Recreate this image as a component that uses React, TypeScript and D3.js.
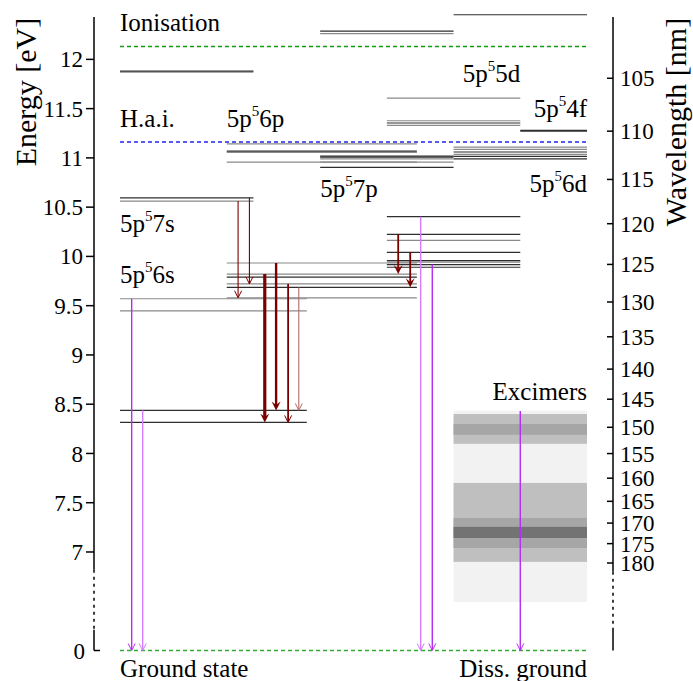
import React from "react";
import * as d3 from "d3";

const W = 693;
const H = 681;

// level energies in eV, grouped by column and by line shade
const s7Dark = [11.88, 10.595];
const s7Light = [11.87, 10.562];
const s6Dark = [8.437, 8.315];
const s6Light = [9.57, 9.447];
const p6Dark = [11.069, 9.789, 9.686];
const p6Light = [11.143, 11.055, 10.958, 9.933, 9.821, 9.721, 9.58];
const p7Dark = [12.287, 11.018, 11.008, 10.904];
const p7Light = [12.262, 10.99, 10.958];
const d5Dark = [11.354, 10.403, 10.224, 10.041, 9.958, 9.917, 9.89];
const d5Light = [11.607, 11.377, 11.33, 10.163, 9.943];
const d6Dark = [12.453, 11.06, 11.016, 10.99];
const d6Light = [11.11, 11.087, 11.036];
const f4Dark = [11.28, 11.272];

const ionisation = 12.13;
const hai = 11.16;

// cascade transitions (dark red)
const cascadeFrom = [10.562, 10.595, 9.821, 9.933, 9.721, 9.686, 10.224, 10.041];
const cascadeTo = [9.58, 9.721, 8.315, 8.437, 8.315, 8.437, 9.821, 9.686];
const cascadeSlot = [1.77, 1.94, 2.17, 2.34, 2.52, 2.68, 4.17, 4.35];
const cascadeStrength = [1, 1, 4, 3, 2, 0.5, 2.5, 2.5];

// VUV lines to the ground state (magenta)
const vuvFrom = [9.57, 8.437, 10.403, 9.917, 8.431];
const vuvSlot = [0.175, 0.34, 4.507, 4.681, 6.0];
const vuvStrong = [1, 0, 0, 1, 1];

// excimer emission bands [nm]
const excimerLo = [147, 147.6, 149.4, 161, 168.8, 170.9];
const excimerHi = [191, 153.1, 151.4, 179.7, 176.1, 173.6];
const excimerGrey = ["#f2f2f2", "#bfbfbf", "#a6a6a6", "#bfbfbf", "#a6a6a6", "#737373"];

const energyTicks = [7, 7.5, 8, 8.5, 9, 9.5, 10, 10.5, 11, 11.5, 12];
const wavelengthTicks = [105, 110, 115, 120, 125, 130, 135, 140, 145, 150, 155, 160, 165, 170, 175, 180];

const HC = 1239.84;
const FONT = "Liberation Serif, Times New Roman, Times, DejaVu Serif, serif";

const Sup = ({ x, y, base, sup, rest, anchor = "start" }) => (
  <text x={x} y={y} fontSize={25} fontFamily={FONT} textAnchor={anchor} fill="#000">
    {base}
    <tspan fontSize={15} dy={-11}>{sup}</tspan>
    <tspan dy={11}>{rest}</tspan>
  </text>
);

export default function App() {
  const y = d3.scaleLinear().domain([6, 12.43]).range([650.5, 17]);
  const ey = (e: number) => y(e < 6 ? 6 : e);
  const x = d3.scaleLinear().domain([0, 7]).range([120, 587]);

  const dark = "#2e2e2e";
  const light = "#8a8a8a";
  const columns = [
    { span: [0, 2], dark: s7Dark, light: s7Light },
    { span: [0, 2.8], dark: s6Dark, light: s6Light },
    { span: [1.6, 4.45], dark: p6Dark, light: p6Light },
    { span: [3, 5], dark: p7Dark, light: p7Light },
    { span: [4, 6], dark: d5Dark, light: d5Light },
    { span: [5, 7], dark: d6Dark, light: d6Light },
    { span: [6, 7], dark: f4Dark, light: [] },
  ];

  const axL = 94;
  const axR = 613;

  const arrow = (key, ax, y1, y2, color, width, filled) => {
    const hl = filled ? 9 : 7;
    const hw = filled ? 4.5 : 3.5;
    return (
      <g key={key}>
        <line x1={ax} x2={ax} y1={y1} y2={filled ? y2 - hl * 0.6 : y2 - 0.5} stroke={color} strokeWidth={width} />
        {filled ? (
          <path d={`M${ax - hw},${y2 - hl}L${ax},${y2}L${ax + hw},${y2 - hl}L${ax},${y2 - hl * 0.6}Z`} fill={color} />
        ) : (
          <path d={`M${ax - hw},${y2 - hl}L${ax},${y2}L${ax + hw},${y2 - hl}`} fill="none" stroke={color} strokeWidth={1} />
        )}
      </g>
    );
  };

  return (
    <svg width={W} height={H} style={{ position: "absolute", left: 0, top: 0, background: "#fff", fontFamily: FONT }}>
      {/* excimer bands */}
      {excimerLo.map((lo, i) => (
        <rect key={`ex${i}`} x={x(5)} width={x(7) - x(5)} y={y(HC / lo)} height={y(HC / excimerHi[i]) - y(HC / lo)} fill={excimerGrey[i]} />
      ))}

      {/* levels */}
      {columns.map((c, ci) => (
        <g key={`col${ci}`}>
          {c.light.map((e, i) => (
            <line key={`l${i}`} x1={x(c.span[0])} x2={x(c.span[1])} y1={y(e)} y2={y(e)} stroke={light} strokeWidth={1.2} />
          ))}
          {c.dark.map((e, i) => (
            <line key={`d${i}`} x1={x(c.span[0])} x2={x(c.span[1])} y1={y(e)} y2={y(e)} stroke={dark} strokeWidth={1.2} />
          ))}
        </g>
      ))}

      {/* reference lines */}
      <line x1={x(0)} x2={x(7)} y1={y(ionisation)} y2={y(ionisation)} stroke="#119911" strokeWidth={1.5} strokeDasharray="4,3" />
      <line x1={x(0)} x2={x(7)} y1={y(hai)} y2={y(hai)} stroke="#2222ee" strokeWidth={1.5} strokeDasharray="4,3" />
      <line x1={x(0)} x2={x(7)} y1={ey(0)} y2={ey(0)} stroke="#33aa33" strokeWidth={1.5} strokeDasharray="4,3" />

      {/* cascade arrows */}
      {cascadeFrom.map((e, i) => {
        const s = cascadeStrength[i];
        const color = s < 1 ? "#b86a6a" : "#7a0000";
        const width = s >= 3 ? s * 0.8 : s >= 2 ? 1.8 : 1.1;
        return arrow(`c${i}`, x(cascadeSlot[i]), y(e), y(cascadeTo[i]), color, width, s >= 2.5);
      })}

      {/* VUV arrows */}
      {vuvFrom.map((e, i) =>
        arrow(`v${i}`, x(vuvSlot[i]), y(e), ey(0), vuvStrong[i] ? "#b62cf0" : "#d27cff", 1.4, false)
      )}

      {/* left axis */}
      <line x1={axL} x2={axL} y1={y(12.43)} y2={ey(6.82)} stroke="#000" strokeWidth={1.5} />
      <line x1={axL} x2={axL} y1={ey(6.82)} y2={ey(6.21)} stroke="#000" strokeWidth={1.5} strokeDasharray="3,4" />
      <line x1={axL} x2={axL} y1={ey(6.21)} y2={ey(0)} stroke="#000" strokeWidth={1.5} />
      {energyTicks.map((t) => (
        <g key={`et${t}`}>
          <line x1={axL - 8} x2={axL} y1={y(t)} y2={y(t)} stroke="#000" strokeWidth={1.5} />
          <text x={axL - 11} y={y(t)} dy="0.35em" textAnchor="end" fontSize={23} fontFamily={FONT}>{t}</text>
        </g>
      ))}
      <line x1={axL} x2={axL + 6} y1={ey(0)} y2={ey(0)} stroke="#000" strokeWidth={1.5} />
      <text x={axL - 9} y={ey(0)} dy="0.35em" textAnchor="end" fontSize={23} fontFamily={FONT}>0</text>
      <text transform={`translate(36,92) rotate(-90)`} textAnchor="middle" fontSize={30} fontFamily={FONT}>Energy [eV]</text>

      {/* right axis */}
      <line x1={axR} x2={axR} y1={y(12.43)} y2={ey(6.8)} stroke="#000" strokeWidth={1.5} />
      <line x1={axR} x2={axR} y1={ey(6.8)} y2={ey(6.23)} stroke="#000" strokeWidth={1.5} strokeDasharray="3,4" />
      <line x1={axR} x2={axR} y1={ey(6.23)} y2={ey(0)} stroke="#000" strokeWidth={1.5} />
      {wavelengthTicks.map((t) => (
        <g key={`wt${t}`}>
          <line x1={axR - 6} x2={axR} y1={y(HC / t)} y2={y(HC / t)} stroke="#000" strokeWidth={1.5} />
          <text x={axR + 7} y={y(HC / t)} dy="0.35em" textAnchor="start" fontSize={23} fontFamily={FONT}>{t}</text>
        </g>
      ))}
      <text transform={`translate(686,122) rotate(-90)`} textAnchor="middle" fontSize={30} fontFamily={FONT}>Wavelength [nm]</text>

      {/* labels */}
      <text x={x(0)} y={31} fontSize={25} fontFamily={FONT}>Ionisation</text>
      <text x={x(0)} y={127} fontSize={25} fontFamily={FONT}>H.a.i.</text>
      <Sup x={x(1.6)} y={127} base="5p" sup="5" rest="6p" />
      <Sup x={x(0)} y={232} base="5p" sup="5" rest="7s" />
      <Sup x={x(0)} y={283} base="5p" sup="5" rest="6s" />
      <Sup x={x(3)} y={197} base="5p" sup="5" rest="7p" />
      <Sup x={x(6)} y={82} base="5p" sup="5" rest="5d" anchor="end" />
      <Sup x={x(7)} y={117} base="5p" sup="5" rest="4f" anchor="end" />
      <Sup x={x(7)} y={192} base="5p" sup="5" rest="6d" anchor="end" />
      <text x={x(7)} y={400} fontSize={25} fontFamily={FONT} textAnchor="end">Excimers</text>
      <text x={x(0)} y={677} fontSize={25} fontFamily={FONT}>Ground state</text>
      <text x={x(7)} y={677} fontSize={25} fontFamily={FONT} textAnchor="end">Diss. ground</text>
    </svg>
  );
}
